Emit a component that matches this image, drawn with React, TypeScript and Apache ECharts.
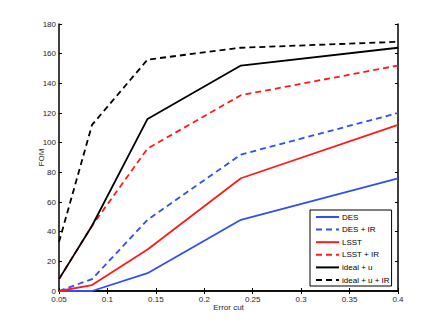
import React, { useEffect, useRef } from "react";
import * as echarts from "echarts";

const errorCuts = [0.05, 0.0841, 0.1414, 0.2378, 0.4];
const desValues = [0, 0, 12, 48, 76];
const desIrValues = [0, 8, 48, 92, 120];
const lsstValues = [0, 4, 28, 76, 112];
const lsstIrValues = [8, 44, 96, 132, 152];
const idealUValues = [8, 44, 116, 152, 164];
const idealUIrValues = [33, 112, 156, 164, 168];

const seriesNames = ["DES", "DES + IR", "LSST", "LSST + IR", "ideal + u", "ideal + u + IR"];
const seriesValues = [desValues, desIrValues, lsstValues, lsstIrValues, idealUValues, idealUIrValues];
const seriesColors = ["#2f4ff5", "#2f4ff5", "#ff1a1a", "#ff1a1a", "#000000", "#000000"];
const seriesDashed = [false, true, false, true, false, true];

const FONT = "'Liberation Sans', Arial, Helvetica, sans-serif";

export default function App() {
  const ref = useRef<HTMLDivElement>(null);
  useEffect(() => {
    if (!ref.current) return;
    const chart = echarts.init(ref.current, null, { renderer: "svg" });
    const axisCommon = {
      type: "value" as const,
      axisLine: { show: true, lineStyle: { color: "#000", width: 1.5 } },
      axisTick: { show: true, inside: true, length: 3, lineStyle: { color: "#000", width: 1 } },
      splitLine: { show: false },
    };
    chart.setOption({
      animation: false,
      backgroundColor: "#fff",
      textStyle: { fontFamily: FONT },
      grid: { left: 59, right: 38, top: 24, bottom: 37, containLabel: false },
      xAxis: [
        {
          ...axisCommon,
          position: "bottom",
          min: 0.05,
          max: 0.4,
          interval: 0.05,
          name: "Error cut",
          nameLocation: "middle",
          nameGap: 12,
          nameMoveOverlap: false,
          nameTextStyle: { fontSize: 8, color: "#262626", fontFamily: FONT },
          axisLabel: { show: true, fontSize: 8, color: "#262626", margin: 4, fontFamily: FONT },
        },
        {
          ...axisCommon,
          position: "top",
          min: 0.05,
          max: 0.4,
          interval: 0.05,
          axisLabel: { show: false },
        },
      ],
      yAxis: [
        {
          ...axisCommon,
          position: "left",
          min: 0,
          max: 180,
          interval: 20,
          name: "FOM",
          nameLocation: "middle",
          nameGap: 14,
          nameMoveOverlap: false,
          nameTextStyle: { fontSize: 8, color: "#262626", fontFamily: FONT },
          axisLabel: { show: true, fontSize: 8, color: "#262626", margin: 3, fontFamily: FONT },
        },
        {
          ...axisCommon,
          position: "right",
          min: 0,
          max: 180,
          interval: 20,
          axisLabel: { show: false },
        },
      ],
      legend: {
        orient: "vertical",
        left: 310,
        top: 210,
        padding: [3, 2, 2, 5],
        itemWidth: 23,
        itemHeight: 8,
        itemGap: 4.6,
        borderColor: "#000",
        borderWidth: 1,
        backgroundColor: "#fff",
        itemStyle: { opacity: 0 },
        data: seriesNames,
        textStyle: { fontSize: 8, color: "#000", fontFamily: FONT, padding: [0, 0, 0, -2] },
      },
      series: seriesNames.map((name, i) => ({
        name,
        type: "line",
        xAxisIndex: 0,
        yAxisIndex: 0,
        symbol: "none",
        color: seriesColors[i],
        lineStyle: {
          color: seriesColors[i],
          width: 1.8,
          type: seriesDashed[i] ? [6, 4] : "solid",
        },
        data: errorCuts.map((x, j) => [x, seriesValues[i][j]]),
      })),
    });
    return () => chart.dispose();
  }, []);
  return (
    <div
      ref={ref}
      style={{ position: "fixed", left: 0, top: 0, width: 436, height: 328 }}
    />
  );
}
